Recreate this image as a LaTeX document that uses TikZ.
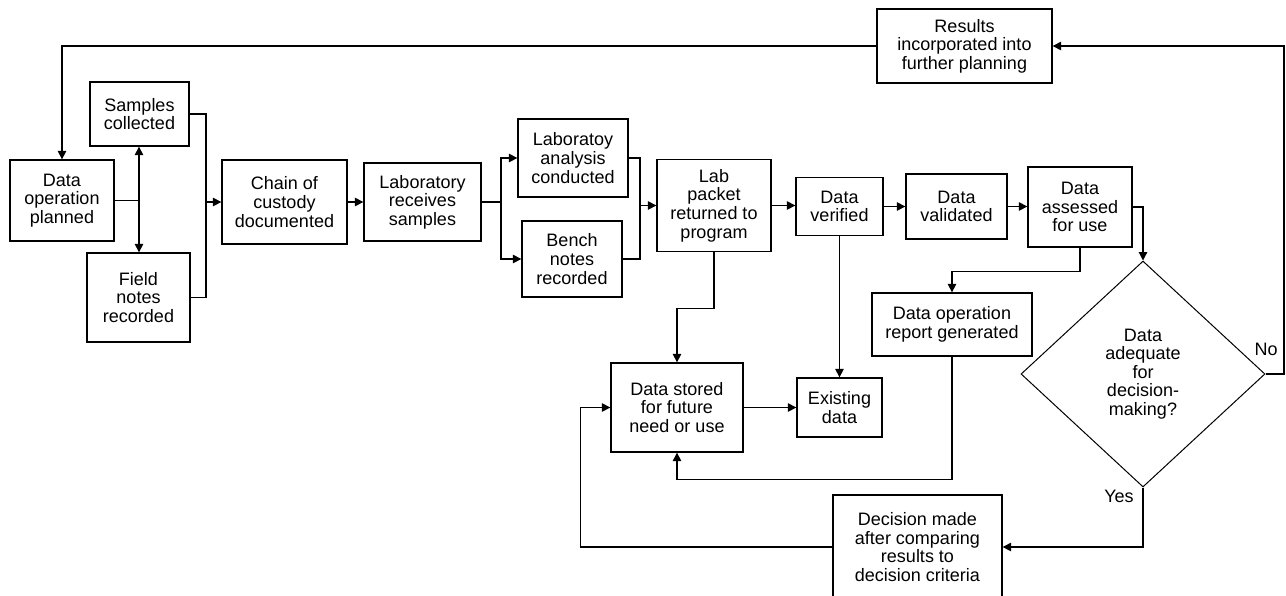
\documentclass[tikz,border=0pt]{standalone}
\usepackage{fontspec}
\setmainfont{Liberation Sans}
\usetikzlibrary{arrows.meta,shapes.geometric}
\begin{document}
\begin{tikzpicture}[x=1pt,y=-1pt,
  box/.style={draw,line width=1.3pt,align=center,inner sep=0pt,font=\fontsize{18}{18.6}\selectfont},
  dia/.style={draw,diamond,line width=1pt,align=center,inner sep=0pt,font=\fontsize{18}{18.6}\selectfont},
  lbl/.style={font=\fontsize{18}{18.6}\selectfont,inner sep=0pt},
  arr/.style={line width=1.2pt,-{Triangle[length=8.5pt,width=8.5pt]}},
  ln/.style={line width=1.2pt}]
\useasboundingbox (0,0) rectangle (1286,595);
% nodes
\node[box,minimum width=104,minimum height=81] (dop) at (62,200.5) {Data\\operation\\planned};
\node[box,minimum width=99,minimum height=64] (samp) at (139.5,114) {Samples\\collected};
\node[box,minimum width=103,minimum height=89] (field) at (138.5,297.5) {Field\\notes\\recorded};
\node[box,minimum width=125,minimum height=84] (chain) at (284.5,202) {Chain of\\custody\\documented};
\node[box,minimum width=117,minimum height=78] (labrec) at (422.5,202) {Laboratory\\receives\\samples};
\node[box,minimum width=110,minimum height=78] (labana) at (573,158) {Laboratoy\\analysis\\conducted};
\node[box,minimum width=100,minimum height=76] (bench) at (572,259) {Bench\\notes\\recorded};
\node[box,minimum width=114,minimum height=92] (packet) at (714,205.5) {Lab\\packet\\returned to\\program};
\node[box,minimum width=87,minimum height=58] (verif) at (839.5,206.5) {Data\\verified};
\node[box,minimum width=101,minimum height=65] (valid) at (956.5,206.5) {Data\\validated};
\node[box,minimum width=104,minimum height=80] (assess) at (1080,207) {Data\\assessed\\for use};
\node[box,minimum width=175,minimum height=74] (results) at (964.5,46) {Results\\incorporated into\\further planning};
\node[dia,minimum width=244,minimum height=226] (adeq) at (1143,374) {Data\\adequate\\for\\decision-\\making?};
\node[box,minimum width=160,minimum height=63] (report) at (952,324.5) {Data operation\\report generated};
\node[box,minimum width=85,minimum height=59] (exist) at (839.5,407.5) {Existing\\data};
\node[box,minimum width=132,minimum height=89] (stored) at (677,407.5) {Data stored\\for future\\need or use};
\node[box,minimum width=169,minimum height=104] (decide) at (917.5,547) {Decision made\\after comparing\\results to\\decision criteria};
\node[lbl] (nolbl) at (1266,349) {No};
\node[lbl] (yeslbl) at (1119,496) {Yes};
% helper coordinates
\coordinate (b1) at (139,200.5);
\coordinate (m1) at (206,202);
\coordinate (m2) at (501,202);
\coordinate (m3) at (640,205.5);
\coordinate (noR) at (1284,46);
% connectors
\draw[arr] (results.west) -| (dop.north);
\draw[arr] (adeq.east) -| (noR) -- (results.east);
\draw[ln] (dop.east) -- (b1);
\draw[arr] (b1) -- (b1 |- samp.south);
\draw[arr] (b1) -- (b1 |- field.north);
\draw[ln] (samp.east) -| (m1);
\draw[ln] (field.east) -| (m1);
\draw[arr] (m1) -- (chain.west);
\draw[arr] (chain.east) -- (labrec.west);
\draw[ln] (labrec.east) -- (m2);
\draw[arr] (m2) |- (labana.west);
\draw[arr] (m2) |- (bench.west);
\draw[ln] (labana.east) -| (m3);
\draw[ln] (bench.east) -| (m3);
\draw[arr] (m3) -- (packet.west);
\draw[arr] (packet.east) -- (packet.east -| verif.west);
\draw[arr] (verif.east) -- (verif.east -| valid.west);
\draw[arr] (valid.east) -- (valid.east -| assess.west);
\draw[arr] (assess.east) -| (adeq.north);
\draw[arr] (assess.south) -- ++(0,24) -| (report.north);
\draw[arr] (packet.south) -- ++(0,56) -| (stored.north);
\draw[arr] (verif.south) -- (exist.north);
\draw[arr] (stored.east) -- (exist.west);
\draw[arr] (report.south) -- ++(0,123) -| (stored.south);
\draw[arr] (adeq.south) |- (decide.east);
\draw[arr] (decide.west) -- ++(-252,0) |- (stored.west);
\end{tikzpicture}
\end{document}
